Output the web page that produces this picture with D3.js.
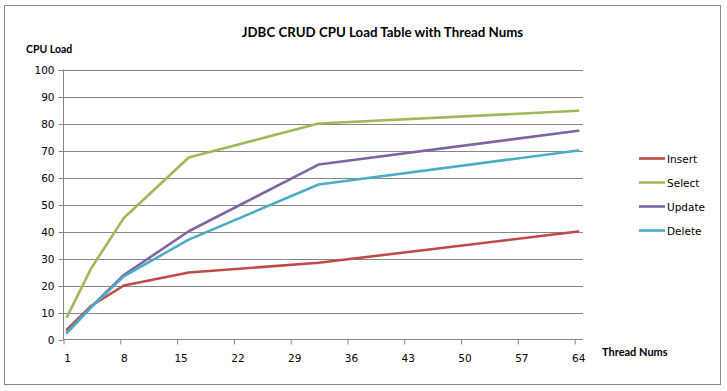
<!DOCTYPE html>
<html>
<head>
<meta charset="utf-8">
<script src="https://cdn.jsdelivr.net/npm/d3@7/dist/d3.min.js"></script>
<style>
  html, body { margin: 0; padding: 0; background: #fff; }
  svg { display: block; }
</style>
</head>
<body>
<svg id="chart" width="727" height="391"></svg>
<script>
const threads = [1, 4, 8, 16, 32, 64];
const insertLoad = [3.7, 12.5, 20, 24.8, 28.4, 40];
const selectLoad = [8.4, 26.5, 45, 67.4, 80, 84.7];
const updateLoad = [2.8, 12.2, 23.9, 40.1, 64.8, 77.3];
const deleteLoad = [2.5, 12, 23.4, 37, 57.4, 70];
const seriesNames = ["Insert", "Select", "Update", "Delete"];
const xTicks = [1, 8, 15, 22, 29, 36, 43, 50, 57, 64];
const yTicks = [0, 10, 20, 30, 40, 50, 60, 70, 80, 90, 100];
const colors = ["#BE4B48", "#9BBB59", "#8064A2", "#4BACC6"];

const series = [insertLoad, selectLoad, updateLoad, deleteLoad];

const svg = d3.select("#chart");
const tickFont = "'DejaVu Sans', Verdana, sans-serif";
const boldFont = "Lato, 'Open Sans', sans-serif";

// outer border
svg.append("rect").attr("x", 4.5).attr("y", 5.5).attr("width", 716).attr("height", 379)
  .attr("fill", "#fff").attr("stroke", "#868686").attr("stroke-width", 1);

const pL = 63, pR = 583, pT = 69.5, pB = 339.5;
const x = d3.scaleLinear().domain([0.5, 64.6]).range([pL, pR]);
const y = d3.scaleLinear().domain([0, 100]).range([pB, pT]);

// grid lines
svg.append("g").selectAll("line").data(yTicks.filter(d => d > 0)).join("line")
  .attr("x1", pL).attr("x2", pR)
  .attr("y1", d => Math.round(y(d)) + 0.5).attr("y2", d => Math.round(y(d)) + 0.5)
  .attr("stroke", "#868686").attr("stroke-width", 1);

// y axis
const yAxis = svg.append("g").attr("transform", `translate(${pL + 0.5},0)`)
  .call(d3.axisLeft(y).tickValues(yTicks).tickSize(5).tickPadding(4));
yAxis.select(".domain").attr("stroke", "#868686").attr("d", `M0,${pT}V${pB}`);
yAxis.selectAll(".tick line").attr("stroke", "#868686");
yAxis.selectAll(".tick").attr("transform", d => `translate(0,${Math.round(y(d)) + 0.5})`);
yAxis.selectAll(".tick text").attr("font-family", tickFont).attr("font-size", "10.5px").attr("fill", "#000");

// x axis
const xAxis = svg.append("g").attr("transform", `translate(0,${pB})`)
  .call(d3.axisBottom(x).tickValues(xTicks).tickSize(5).tickPadding(10).tickFormat(d3.format("d")));
xAxis.select(".domain").attr("stroke", "#868686").attr("d", `M${pL},0H${pR}`);
xAxis.selectAll(".tick line").attr("stroke", "#868686")
  .attr("x1", -3.5).attr("x2", -3.5);
xAxis.selectAll(".tick text").attr("font-family", tickFont).attr("font-size", "10.5px").attr("fill", "#000");

// lines
const line = d3.line().x((d, i) => x(threads[i])).y(d => y(d));
series.forEach((s, k) => {
  svg.append("path").datum(s).attr("d", line)
    .attr("fill", "none").attr("stroke", colors[k]).attr("stroke-width", 2.6)
    .attr("stroke-linejoin", "round").attr("stroke-linecap", "round");
});

// title
svg.append("text").attr("x", 382.5).attr("y", 37).attr("text-anchor", "middle")
  .attr("font-family", boldFont).attr("font-weight", "bold").attr("font-size", "13.3px")
  .attr("fill", "#000").text("JDBC CRUD CPU Load Table with Thread Nums");

svg.append("text").attr("x", 26).attr("y", 53)
  .attr("font-family", boldFont).attr("font-weight", "bold").attr("font-size", "10.5px")
  .attr("fill", "#000").text("CPU Load");

svg.append("text").attr("x", 602).attr("y", 356)
  .attr("font-family", boldFont).attr("font-weight", "bold").attr("font-size", "11px")
  .attr("fill", "#000").text("Thread Nums");

// legend
const legendY = [158.5, 182.5, 206.5, 230.5];
const lg = svg.append("g");
seriesNames.forEach((n, k) => {
  lg.append("line").attr("x1", 639).attr("x2", 665).attr("y1", legendY[k]).attr("y2", legendY[k])
    .attr("stroke", colors[k]).attr("stroke-width", 2.6);
  lg.append("text").attr("x", 667).attr("y", legendY[k] + 4)
    .attr("font-family", tickFont).attr("font-size", "10.5px").attr("fill", "#000").text(n);
});
</script>
</body>
</html>
